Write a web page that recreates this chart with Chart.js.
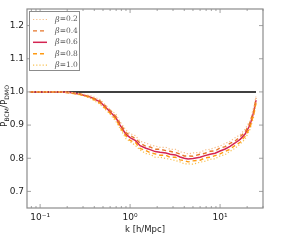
<!DOCTYPE html>
<html>
<head>
<meta charset="utf-8">
<script src="https://cdn.jsdelivr.net/npm/chart.js@4"></script>
<style>
  html,body{margin:0;padding:0;background:#fff;}
  #wrap{width:286px;height:249px;}
</style>
</head>
<body>
<div id="wrap"><canvas id="c" width="286" height="249"></canvas></div>
<script>
// k values (h/Mpc) sampled along the curves
const kValues = [0.077,0.1,0.13,0.167,0.215,0.278,0.359,0.464,0.6,0.7,0.774,0.9,1.0,1.15,1.29,1.5,1.67,1.9,2.15,2.5,2.78,3.2,3.59,4.0,4.41,5.0,5.99,6.8,7.74,8.8,10,11.4,12.9,14.7,16.7,18.9,21.5,23.7,25.1];

const beta02 = [1.000,1.000,1.000,1.000,0.999,0.995,0.989,0.977,0.947,0.932,0.910,0.885,0.874,0.868,0.851,0.846,0.840,0.837,0.833,0.833,0.827,0.827,0.819,0.817,0.813,0.816,0.818,0.825,0.827,0.832,0.837,0.845,0.851,0.862,0.871,0.887,0.913,0.954,0.986];
const beta04 = [1.000,1.000,1.000,1.000,0.998,0.994,0.986,0.973,0.945,0.925,0.906,0.877,0.869,0.859,0.846,0.836,0.834,0.827,0.827,0.823,0.821,0.817,0.813,0.807,0.807,0.806,0.812,0.815,0.821,0.822,0.831,0.835,0.845,0.852,0.865,0.878,0.908,0.945,0.982];
const beta06 = [1.000,1.000,1.000,1.000,0.998,0.993,0.985,0.970,0.940,0.921,0.900,0.872,0.862,0.853,0.838,0.830,0.826,0.820,0.818,0.816,0.812,0.810,0.804,0.800,0.798,0.799,0.803,0.808,0.812,0.815,0.822,0.828,0.836,0.846,0.857,0.872,0.900,0.940,0.975];
const beta08 = [1.000,1.000,1.000,1.000,0.997,0.992,0.984,0.966,0.936,0.917,0.893,0.867,0.854,0.847,0.830,0.823,0.817,0.813,0.809,0.809,0.803,0.803,0.795,0.793,0.789,0.792,0.794,0.801,0.803,0.808,0.813,0.821,0.827,0.839,0.848,0.866,0.892,0.934,0.968];
const beta10 = [1.000,1.000,1.000,1.000,0.997,0.991,0.981,0.963,0.933,0.910,0.890,0.859,0.850,0.838,0.825,0.814,0.812,0.803,0.803,0.799,0.797,0.793,0.789,0.783,0.783,0.782,0.788,0.791,0.797,0.798,0.807,0.811,0.821,0.830,0.843,0.857,0.887,0.926,0.964];

const seriesLabels = ['=0.2','=0.4','=0.6','=0.8','=1.0'];
const refK = [0.077, 25.1];
const refVal = [1.0, 1.0];

const xMajor = [0.1, 1, 10];
const xMajorLabels = ['10\u207b\u00b9','10\u2070','10\u00b9'];
const yMajor = [0.7, 0.8, 0.9, 1.0, 1.1, 1.2];

function pts(ys){ return kValues.map((k,i)=>({x:k, y:ys[i]})); }

const frameColor = '#8c8c8c';

// frame, inward ticks, legend and y title
const decor = {
  id:'decor',
  afterDraw(chart){
    const ctx = chart.ctx, a = chart.chartArea;
    const xs = chart.scales.x, ys = chart.scales.y;
    ctx.save();
    ctx.strokeStyle = frameColor;
    ctx.lineWidth = 1.2;
    ctx.strokeRect(a.left, a.top, a.right-a.left, a.bottom-a.top);
    ctx.lineWidth = 0.8;
    ctx.beginPath();
    for(let d=-2; d<=1; d++){
      for(let m=1; m<=9; m++){
        const v = m*Math.pow(10,d);
        if(v < xs.min || v > xs.max) continue;
        const px = xs.getPixelForValue(v);
        const len = m===1 ? 4 : 2;
        ctx.moveTo(px, a.bottom); ctx.lineTo(px, a.bottom-len);
        ctx.moveTo(px, a.top); ctx.lineTo(px, a.top+len);
      }
    }
    for(const v of yMajor){
      const py = ys.getPixelForValue(v);
      ctx.moveTo(a.left, py); ctx.lineTo(a.left+4, py);
      ctx.moveTo(a.right, py); ctx.lineTo(a.right-4, py);
    }
    ctx.stroke();

    // legend, in beta order
    const order = [0,1,4,2,3];
    ctx.fillStyle = '#fff';
    ctx.fillRect(29.5, 11.5, 50, 59);
    ctx.strokeStyle = '#8c8c8c';
    ctx.lineWidth = 1;
    ctx.strokeRect(29.5, 11.5, 50, 59);
    order.forEach((di,row)=>{
      const ds = chart.data.datasets[di];
      const y = 19.5 + row*11.4;
      ctx.save();
      ctx.strokeStyle = ds.borderColor;
      ctx.lineWidth = ds.borderWidth;
      ctx.setLineDash(ds.borderDash || []);
      ctx.beginPath(); ctx.moveTo(33, y); ctx.lineTo(47, y); ctx.stroke();
      ctx.restore();
      ctx.fillStyle = '#555';
      ctx.textBaseline = 'middle';
      ctx.font = 'italic 8px "DejaVu Serif"';
      ctx.fillText('\u03b2', 55, y);
      const bw = ctx.measureText('\u03b2').width;
      ctx.font = '7.5px "DejaVu Serif"';
      ctx.fillText(seriesLabels[row], 55+bw, y);
    });

    // y axis title with subscripts
    ctx.fillStyle = '#222';
    ctx.translate(5, 106);
    ctx.rotate(-Math.PI/2);
    const parts = [['P',9,0],['BCM',6,2.5],['/P',9,0],['DMO',6,2.5]];
    let w = 0;
    for(const p of parts){ ctx.font = p[1]+'px "DejaVu Sans"'; w += ctx.measureText(p[0]).width; }
    let x = -w/2;
    ctx.textBaseline = 'middle';
    for(const p of parts){
      ctx.font = p[1]+'px "DejaVu Sans"';
      ctx.fillText(p[0], x, p[2]);
      x += ctx.measureText(p[0]).width;
    }
    ctx.restore();
  }
};

const lineDefaults = {pointRadius:0, fill:false, tension:0, borderCapStyle:'butt'};

new Chart(document.getElementById('c'), {
  type:'line',
  data:{
    datasets:[
      {label:'0.2', data:pts(beta02), borderColor:'#f6be88', borderWidth:1.2, borderDash:[1.2,2], ...lineDefaults},
      {label:'0.4', data:pts(beta04), borderColor:'#e6762a', borderWidth:1.4, borderDash:[4,3], ...lineDefaults},
      {label:'0.8', data:pts(beta08), borderColor:'#ff9a12', borderWidth:1.4, borderDash:[4,3], ...lineDefaults},
      {label:'1.0', data:pts(beta10), borderColor:'#f8c050', borderWidth:1.2, borderDash:[1.2,2], ...lineDefaults},
      {label:'0.6', data:pts(beta06), borderColor:'#d42452', borderWidth:1.5, ...lineDefaults},
      {label:'ref', data:refK.map((k,i)=>({x:k,y:refVal[i]})), borderColor:'#000', borderWidth:1.5, ...lineDefaults}
    ]
  },
  options:{
    responsive:false,
    animation:false,
    events:[],
    layout:{padding:{left:0, top:9, right:23, bottom:14}},
    plugins:{
      tooltip:{enabled:false},
      title:{display:false},
      legend:{display:false}
    },
    scales:{
      x:{
        type:'logarithmic',
        min:0.0715,
        max:30,
        afterBuildTicks:(s)=>{ s.ticks = xMajor.map(v=>({value:v})); },
        afterFit:(s)=>{ s.height = 27; },
        grid:{display:false, drawTicks:false},
        border:{display:false},
        ticks:{
          color:'#222',
          font:{family:'"DejaVu Sans"', size:9},
          padding:4,
          maxRotation:0,
          autoSkip:false,
          callback:(v)=>{ const i = xMajor.indexOf(v); return i>=0 ? xMajorLabels[i] : ''; }
        },
        title:{display:true, text:'k [h/Mpc]', color:'#222', font:{family:'"DejaVu Sans"', size:8.5}, padding:{top:2,bottom:0}}
      },
      y:{
        min:0.65,
        max:1.25,
        afterBuildTicks:(s)=>{ s.ticks = yMajor.map(v=>({value:v})); },
        afterFit:(s)=>{ s.width = 27; },
        grid:{display:false, drawTicks:false},
        border:{display:false},
        ticks:{
          color:'#222',
          font:{family:'"DejaVu Sans"', size:9},
          padding:3,
          callback:(v)=>v.toFixed(1)
        }
      }
    }
  },
  plugins:[decor]
});
</script>
</body>
</html>
